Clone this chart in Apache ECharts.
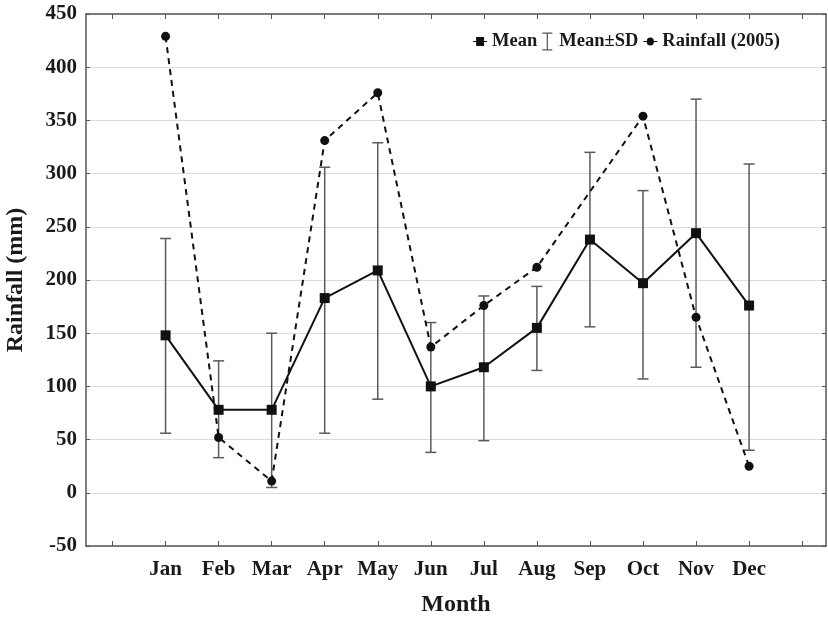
<!DOCTYPE html>
<html>
<head>
<meta charset="utf-8">
<script src="https://cdn.jsdelivr.net/npm/echarts@6/dist/echarts.min.js"></script>
<style>html,body{margin:0;padding:0;background:#fff}#c{width:828px;height:617px}</style>
</head>
<body>
<div id="c"></div>
<script>
const months = ['Jan','Feb','Mar','Apr','May','Jun','Jul','Aug','Sep','Oct','Nov','Dec'];
const meanValues = [148, 78, 78, 183, 209, 100, 118, 155, 238, 197, 244, 176];
const sdUpper = [239, 124, 150, 306, 329, 160, 185, 194, 320, 284, 370, 309];
const sdLower = [56, 33, 5, 56, 88, 38, 49, 115, 156, 107, 118, 40];
const rainfall2005 = [429, 52, 11, 331, 376, 137, 176, 212, 283, 354, 165, 25];
const yTicks = [-50, 0, 50, 100, 150, 200, 250, 300, 350, 400, 450];
const xTicks = [0,1,2,3,4,5,6,7,8,9,10,11,12,13];

const FONT = '"Liberation Serif", "Times New Roman", serif';
const TXT = '#1a1a1a';
const AX = '#555';

const meanData = meanValues.map((v, i) => [i + 1, v]);
const sdData = months.map((m, i) => [i + 1, sdLower[i], sdUpper[i]]);
const rainData = rainfall2005.map((v, i) => {
  const item = { value: [i + 1, v] };
  if (months[i] === 'Sep') item.symbol = 'none';
  return item;
});

const chart = echarts.init(document.getElementById('c'));
chart.setOption({
  animation: false,
  backgroundColor: '#fff',
  textStyle: { fontFamily: FONT },
  grid: { left: 86, right: 2, top: 14, bottom: 71, containLabel: false, outerBoundsMode: 'none' },
  legend: {
    right: 43, top: 27,
    itemWidth: 14, itemHeight: 18, itemGap: 5,
    textStyle: { fontFamily: FONT, fontSize: 18.5, fontWeight: 'bold', color: TXT },
    data: [
      { name: 'Mean', icon: 'path://M0,4h3v-4h8v4h3v1h-3v4h-8v-4h-3z' },
      { name: 'Mean±SD', icon: 'path://M0,0h10v1.2h-10z M4.4,1.2h1.2v15.6h-1.2z M0,16.8h10v1.2h-10z' },
      { name: 'Rainfall (2005)', icon: 'path://M0,4h3.5A3.5,3.5 0 1 1 10.5,4h3.5v1h-3.5A3.5,3.5 0 1 1 3.5,5h-3.5z' }
    ]
  },
  xAxis: [{
    type: 'value', min: -0.5, max: 13.45, position: 'bottom',
    axisLine: { show: true, onZero: false, lineStyle: { color: AX, width: 1.5 } },
    axisTick: { show: true, inside: true, length: 5, customValues: xTicks, lineStyle: { color: AX } },
    axisLabel: {
      customValues: months.map((m, i) => i + 1),
      formatter: v => months[Math.round(v) - 1] || '',
      margin: 13, fontFamily: FONT, fontSize: 21, fontWeight: 'bold', color: TXT
    },
    splitLine: { show: false },
    name: 'Month', nameLocation: 'middle', nameGap: 47,
    nameTextStyle: { fontFamily: FONT, fontSize: 24, fontWeight: 'bold', color: TXT }
  }, {
    type: 'value', min: -0.5, max: 13.45, position: 'top',
    axisLine: { show: true, onZero: false, lineStyle: { color: AX, width: 1.5 } },
    axisTick: { show: true, inside: true, length: 5, customValues: xTicks, lineStyle: { color: AX } },
    axisLabel: { show: false },
    splitLine: { show: false }
  }],
  yAxis: [{
    type: 'value', min: -50, max: 450, interval: 50, position: 'left',
    axisLine: { show: true, onZero: false, lineStyle: { color: AX, width: 1.5 } },
    axisTick: { show: true, inside: true, length: 4, lineStyle: { color: AX } },
    axisLabel: { margin: 9, fontFamily: FONT, fontSize: 21, fontWeight: 'bold', color: TXT },
    splitLine: { show: true, lineStyle: { color: '#dcdcdc', width: 1.2 } },
    name: 'Rainfall (mm)', nameLocation: 'middle', nameGap: 58, nameRotate: 90,
    nameTextStyle: { fontFamily: FONT, fontSize: 24, fontWeight: 'bold', color: TXT }
  }, {
    type: 'value', min: -50, max: 450, interval: 50, position: 'right',
    axisLine: { show: true, onZero: false, lineStyle: { color: AX, width: 1.5 } },
    axisTick: { show: true, inside: true, length: 4, lineStyle: { color: AX } },
    axisLabel: { show: false },
    splitLine: { show: false }
  }],
  series: [{
    name: 'Mean±SD',
    type: 'custom',
    xAxisIndex: 0, yAxisIndex: 0,
    itemStyle: { color: '#555' },
    encode: { x: 0, y: [1, 2] },
    data: sdData,
    z: 1,
    renderItem: function (params, api) {
      const x = api.value(0);
      const lo = api.coord([x, api.value(1)]);
      const hi = api.coord([x, api.value(2)]);
      const hw = 5.5;
      const style = { stroke: '#5a5a5a', lineWidth: 1.5, fill: null };
      return {
        type: 'group',
        children: [
          { type: 'line', shape: { x1: lo[0], y1: lo[1], x2: hi[0], y2: hi[1] }, style: style },
          { type: 'line', shape: { x1: lo[0] - hw, y1: lo[1], x2: lo[0] + hw, y2: lo[1] }, style: style },
          { type: 'line', shape: { x1: hi[0] - hw, y1: hi[1], x2: hi[0] + hw, y2: hi[1] }, style: style }
        ]
      };
    }
  }, {
    name: 'Mean',
    type: 'line',
    data: meanData,
    symbol: 'rect', symbolSize: 10,
    itemStyle: { color: '#111' },
    lineStyle: { color: '#111', width: 2 },
    z: 3
  }, {
    name: 'Rainfall (2005)',
    type: 'line',
    data: rainData,
    symbol: 'circle', symbolSize: 9,
    itemStyle: { color: '#111' },
    lineStyle: { color: '#111', width: 2, type: [6, 5] },
    z: 4
  }]
});
</script>
</body>
</html>
